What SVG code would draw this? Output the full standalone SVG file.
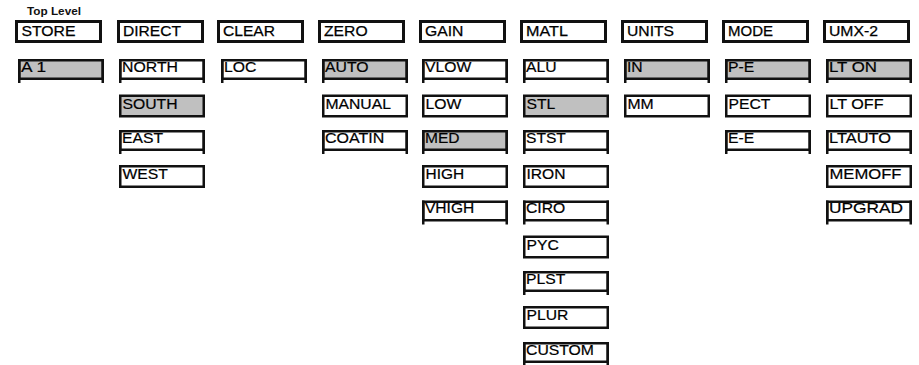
<svg xmlns="http://www.w3.org/2000/svg" width="919" height="365" viewBox="0 0 919 365">
<style>
.bg{fill:#ffffff}
.top{fill:#ffffff;stroke:#111;stroke-width:3}
.box{fill:#ffffff;stroke:#111;stroke-width:2.5}
.sel{fill:#c0c0c0}
.leg{stroke:#111;stroke-width:2.5;fill:none}
.ht{font-family:"Liberation Sans",Arial,sans-serif;font-size:14.5px;fill:#000;stroke:#000;stroke-width:0.25}
.ct{font-family:"Liberation Sans",Arial,sans-serif;font-size:14px;fill:#000;stroke:#000;stroke-width:0.2}
.cap{font-family:"Liberation Sans",Arial,sans-serif;font-size:11px;font-weight:bold;fill:#111}
</style>
<rect class="bg" x="0" y="0" width="919" height="365"/>
<text class="cap" x="27" y="15" textLength="54" lengthAdjust="spacingAndGlyphs">Top Level</text>
<g id="connectors"/>
<!-- Top row -->
<g id="n-store" transform="translate(15,20)"><rect class="top" x="1.5" y="1.5" width="84" height="20"/><text class="ht" x="6.5" y="15.5" textLength="54" lengthAdjust="spacingAndGlyphs">STORE</text></g>
<g id="n-direct" transform="translate(117,20)"><rect class="top" x="1.5" y="1.5" width="84" height="20"/><text class="ht" x="6" y="15.5" textLength="58" lengthAdjust="spacingAndGlyphs">DIRECT</text></g>
<g id="n-clear" transform="translate(217,20)"><rect class="top" x="1.5" y="1.5" width="84" height="20"/><text class="ht" x="6" y="15.5" textLength="52" lengthAdjust="spacingAndGlyphs">CLEAR</text></g>
<g id="n-zero" transform="translate(318,20)"><rect class="top" x="1.5" y="1.5" width="84" height="20"/><text class="ht" x="6" y="15.5" textLength="43.6" lengthAdjust="spacingAndGlyphs">ZERO</text></g>
<g id="n-gain" transform="translate(419,20)"><rect class="top" x="1.5" y="1.5" width="84" height="20"/><text class="ht" x="6" y="15.5" textLength="38.4" lengthAdjust="spacingAndGlyphs">GAIN</text></g>
<g id="n-matl" transform="translate(520,20)"><rect class="top" x="1.5" y="1.5" width="84" height="20"/><text class="ht" x="6" y="15.5" textLength="41.9" lengthAdjust="spacingAndGlyphs">MATL</text></g>
<g id="n-units" transform="translate(621,20)"><rect class="top" x="1.5" y="1.5" width="84" height="20"/><text class="ht" x="6" y="15.5" textLength="47" lengthAdjust="spacingAndGlyphs">UNITS</text></g>
<g id="n-mode" transform="translate(722,20)"><rect class="top" x="1.5" y="1.5" width="84" height="20"/><text class="ht" x="6" y="15.5" textLength="45" lengthAdjust="spacingAndGlyphs">MODE</text></g>
<g id="n-umx2" transform="translate(823,20)"><rect class="top" x="1.5" y="1.5" width="84" height="20"/><text class="ht" x="6" y="15.5" textLength="49" lengthAdjust="spacingAndGlyphs">UMX-2</text></g>

<!-- Column 0 -->
<g id="n-a1" transform="translate(18,59)"><rect class="box sel" x="1.25" y="1.25" width="83.5" height="18.5"/><path class="leg" d="M1.25 0V24M84.75 0V24"/><text class="ct" x="3" y="12.5" textLength="25" lengthAdjust="spacingAndGlyphs">A 1</text></g>

<!-- Column 1 -->
<g id="n-north" transform="translate(119,59)"><rect class="box" x="1.25" y="1.25" width="83.5" height="18.5"/><path class="leg" d="M1.25 0V24M84.75 0V24"/><text class="ct" x="3" y="12.5" textLength="56" lengthAdjust="spacingAndGlyphs">NORTH</text></g>
<g id="n-south" transform="translate(119,94.5)"><rect class="box sel" x="1.25" y="1.25" width="83.5" height="20.5"/><text class="ct" x="3.5" y="14" textLength="55" lengthAdjust="spacingAndGlyphs">SOUTH</text></g>
<g id="n-east" transform="translate(119,130)"><rect class="box" x="1.25" y="1.25" width="83.5" height="18.5"/><path class="leg" d="M1.25 0V24M84.75 0V24"/><text class="ct" x="3" y="12.5" textLength="41" lengthAdjust="spacingAndGlyphs">EAST</text></g>
<g id="n-west" transform="translate(119,165)"><rect class="box" x="1.25" y="1.25" width="83.5" height="20.5"/><text class="ct" x="3.5" y="14" textLength="45.4" lengthAdjust="spacingAndGlyphs">WEST</text></g>

<!-- Column 2 -->
<g id="n-loc" transform="translate(221,59)"><rect class="box" x="1.25" y="1.25" width="83.5" height="18.5"/><path class="leg" d="M1.25 0V24M84.75 0V24"/><text class="ct" x="3" y="12.5" textLength="32.3" lengthAdjust="spacingAndGlyphs">LOC</text></g>

<!-- Column 3 -->
<g id="n-auto" transform="translate(322,59)"><rect class="box sel" x="1.25" y="1.25" width="83.5" height="18.5"/><path class="leg" d="M1.25 0V24M84.75 0V24"/><text class="ct" x="3" y="12.5" textLength="43.6" lengthAdjust="spacingAndGlyphs">AUTO</text></g>
<g id="n-manual" transform="translate(322,94.5)"><rect class="box" x="1.25" y="1.25" width="83.5" height="20.5"/><text class="ct" x="3.5" y="14" textLength="65.4" lengthAdjust="spacingAndGlyphs">MANUAL</text></g>
<g id="n-coatin" transform="translate(322,130)"><rect class="box" x="1.25" y="1.25" width="83.5" height="18.5"/><path class="leg" d="M1.25 0V24M84.75 0V24"/><text class="ct" x="3" y="12.5" textLength="59.3" lengthAdjust="spacingAndGlyphs">COATIN</text></g>

<!-- Column 4 -->
<g id="n-vlow" transform="translate(422,59)"><rect class="box" x="1.25" y="1.25" width="83.5" height="18.5"/><path class="leg" d="M1.25 0V24M84.75 0V24"/><text class="ct" x="3" y="12.5" textLength="46.2" lengthAdjust="spacingAndGlyphs">VLOW</text></g>
<g id="n-low" transform="translate(422,94.5)"><rect class="box" x="1.25" y="1.25" width="83.5" height="20.5"/><text class="ct" x="3.5" y="14" textLength="35.8" lengthAdjust="spacingAndGlyphs">LOW</text></g>
<g id="n-med" transform="translate(422,130)"><rect class="box sel" x="1.25" y="1.25" width="83.5" height="18.5"/><path class="leg" d="M1.25 0V24M84.75 0V24"/><text class="ct" x="3" y="12.5" textLength="34.6" lengthAdjust="spacingAndGlyphs">MED</text></g>
<g id="n-high" transform="translate(422,165)"><rect class="box" x="1.25" y="1.25" width="83.5" height="20.5"/><text class="ct" x="3.5" y="14" textLength="38.6" lengthAdjust="spacingAndGlyphs">HIGH</text></g>
<g id="n-vhigh" transform="translate(422,200.5)"><rect class="box" x="1.25" y="1.25" width="83.5" height="18.5"/><path class="leg" d="M1.25 0V24M84.75 0V24"/><text class="ct" x="3" y="12.5" textLength="49.2" lengthAdjust="spacingAndGlyphs">VHIGH</text></g>

<!-- Column 5 -->
<g id="n-alu" transform="translate(523,59)"><rect class="box" x="1.25" y="1.25" width="83.5" height="18.5"/><path class="leg" d="M1.25 0V24M84.75 0V24"/><text class="ct" x="3" y="12.5" textLength="30.5" lengthAdjust="spacingAndGlyphs">ALU</text></g>
<g id="n-stl" transform="translate(523,94.5)"><rect class="box sel" x="1.25" y="1.25" width="83.5" height="20.5"/><text class="ct" x="3.5" y="14" textLength="28.8" lengthAdjust="spacingAndGlyphs">STL</text></g>
<g id="n-stst" transform="translate(523,130)"><rect class="box" x="1.25" y="1.25" width="83.5" height="18.5"/><path class="leg" d="M1.25 0V24M84.75 0V24"/><text class="ct" x="3" y="12.5" textLength="39.8" lengthAdjust="spacingAndGlyphs">STST</text></g>
<g id="n-iron" transform="translate(523,165)"><rect class="box" x="1.25" y="1.25" width="83.5" height="20.5"/><text class="ct" x="3.5" y="14" textLength="39" lengthAdjust="spacingAndGlyphs">IRON</text></g>
<g id="n-ciro" transform="translate(523,200.5)"><rect class="box" x="1.25" y="1.25" width="83.5" height="18.5"/><path class="leg" d="M1.25 0V24M84.75 0V24"/><text class="ct" x="3" y="12.5" textLength="39.3" lengthAdjust="spacingAndGlyphs">CIRO</text></g>
<g id="n-pyc" transform="translate(523,235.5)"><rect class="box" x="1.25" y="1.25" width="83.5" height="20.5"/><text class="ct" x="3.5" y="14" textLength="32.3" lengthAdjust="spacingAndGlyphs">PYC</text></g>
<g id="n-plst" transform="translate(523,271)"><rect class="box" x="1.25" y="1.25" width="83.5" height="18.5"/><path class="leg" d="M1.25 0V24M84.75 0V24"/><text class="ct" x="3" y="12.5" textLength="39.3" lengthAdjust="spacingAndGlyphs">PLST</text></g>
<g id="n-plur" transform="translate(523,306)"><rect class="box" x="1.25" y="1.25" width="83.5" height="20.5"/><text class="ct" x="3.5" y="14" textLength="41.9" lengthAdjust="spacingAndGlyphs">PLUR</text></g>
<g id="n-custom" transform="translate(523,342)"><rect class="box" x="1.25" y="1.25" width="83.5" height="18.5"/><path class="leg" d="M1.25 0V24M84.75 0V24"/><text class="ct" x="3" y="12.5" textLength="68" lengthAdjust="spacingAndGlyphs">CUSTOM</text></g>

<!-- Column 6 -->
<g id="n-in" transform="translate(624,59)"><rect class="box sel" x="1.25" y="1.25" width="83.5" height="18.5"/><path class="leg" d="M1.25 0V24M84.75 0V24"/><text class="ct" x="3" y="12.5" textLength="15.7" lengthAdjust="spacingAndGlyphs">IN</text></g>
<g id="n-mm" transform="translate(624,94.5)"><rect class="box" x="1.25" y="1.25" width="83.5" height="20.5"/><text class="ct" x="3.5" y="14" textLength="26.2" lengthAdjust="spacingAndGlyphs">MM</text></g>

<!-- Column 7 -->
<g id="n-pe" transform="translate(725,59)"><rect class="box sel" x="1.25" y="1.25" width="83.5" height="18.5"/><path class="leg" d="M1.25 0V24M84.75 0V24"/><text class="ct" x="3" y="12.5" textLength="26.2" lengthAdjust="spacingAndGlyphs">P-E</text></g>
<g id="n-pect" transform="translate(725,94.5)"><rect class="box" x="1.25" y="1.25" width="83.5" height="20.5"/><text class="ct" x="3.5" y="14" textLength="41.9" lengthAdjust="spacingAndGlyphs">PECT</text></g>
<g id="n-ee" transform="translate(725,130)"><rect class="box" x="1.25" y="1.25" width="83.5" height="18.5"/><path class="leg" d="M1.25 0V24M84.75 0V24"/><text class="ct" x="3" y="12.5" textLength="26.2" lengthAdjust="spacingAndGlyphs">E-E</text></g>

<!-- Column 8 -->
<g id="n-lton" transform="translate(826,59)"><rect class="box sel" x="1.25" y="1.25" width="83.5" height="18.5"/><path class="leg" d="M1.25 0V24M84.75 0V24"/><text class="ct" x="3" y="12.5" textLength="48" lengthAdjust="spacingAndGlyphs">LT ON</text></g>
<g id="n-ltoff" transform="translate(826,94.5)"><rect class="box" x="1.25" y="1.25" width="83.5" height="20.5"/><text class="ct" x="3.5" y="14" textLength="54" lengthAdjust="spacingAndGlyphs">LT OFF</text></g>
<g id="n-ltauto" transform="translate(826,130)"><rect class="box" x="1.25" y="1.25" width="83.5" height="18.5"/><path class="leg" d="M1.25 0V24M84.75 0V24"/><text class="ct" x="3" y="12.5" textLength="62" lengthAdjust="spacingAndGlyphs">LTAUTO</text></g>
<g id="n-memoff" transform="translate(826,165)"><rect class="box" x="1.25" y="1.25" width="83.5" height="20.5"/><text class="ct" x="3.5" y="14" textLength="72" lengthAdjust="spacingAndGlyphs">MEMOFF</text></g>
<g id="n-upgrad" transform="translate(826,200.5)"><rect class="box" x="1.25" y="1.25" width="83.5" height="18.5"/><path class="leg" d="M1.25 0V24M84.75 0V24"/><text class="ct" x="3" y="12.5" textLength="74" lengthAdjust="spacingAndGlyphs">UPGRAD</text></g>
</svg>
